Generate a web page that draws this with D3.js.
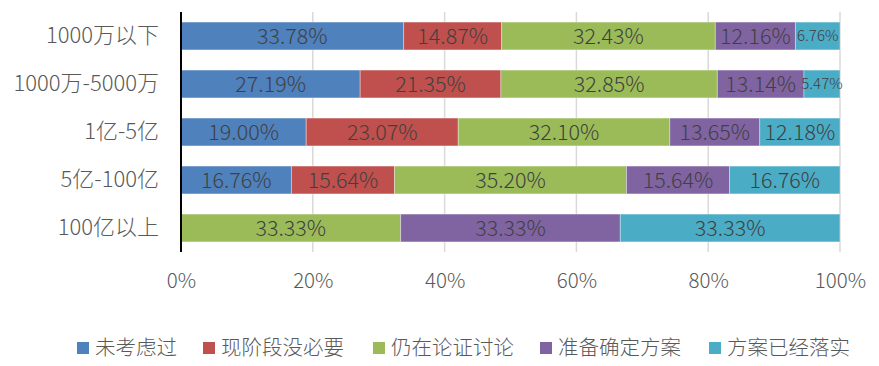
<!DOCTYPE html>
<html><head><meta charset="utf-8">
<script src="https://cdn.jsdelivr.net/npm/d3@7/dist/d3.min.js"></script>
<style>body{margin:0;background:#fff}svg{display:block}</style>
</head><body>
<script>
const categories = ["1000万以下","1000万-5000万","1亿-5亿","5亿-100亿","100亿以上"];
const seriesNames = ["未考虑过","现阶段没必要","仍在论证讨论","准备确定方案","方案已经落实"];
const colors = ["#4F81BD","#C0504D","#9BBB59","#8064A2","#4BACC6"];
const s1 = [33.78, 27.19, 19.00, 16.76, 0];
const s2 = [14.87, 21.35, 23.07, 15.64, 0];
const s3 = [32.43, 32.85, 32.10, 35.20, 33.33];
const s4 = [12.16, 13.14, 13.65, 15.64, 33.33];
const s5 = [6.76, 5.47, 12.18, 16.76, 33.33];
const xTicks = [0, 20, 40, 60, 80, 100];

const W = 879, H = 366;
const svg = d3.select("body").append("svg").attr("width", W).attr("height", H);
const font = "'Noto Sans CJK SC','Noto Sans',sans-serif";
const weight = 300;

const x = d3.scaleLinear().domain([0, 100]).range([181, 840]);
const y = d3.scaleBand().domain(categories).range([12, 252]).paddingInner(0.42).paddingOuter(0.21);

const rows = categories.map((c, i) => {
  const r = {cat: c};
  [s1, s2, s3, s4, s5].forEach((s, k) => r[seriesNames[k]] = s[i]);
  return r;
});
const stacked = d3.stack().keys(seriesNames)(rows);

// gridlines
svg.append("g").selectAll("line").data(xTicks.filter(t => t > 0)).join("line")
  .attr("x1", d => x(d)).attr("x2", d => x(d))
  .attr("y1", 12).attr("y2", 252)
  .attr("stroke", "#D9D9D9").attr("stroke-width", 1.5);

// bars
const g = svg.append("g");
stacked.forEach((layer, k) => {
  g.append("g").selectAll("rect").data(layer.filter(d => d[1] - d[0] > 0)).join("rect")
    .attr("x", d => x(d[0])).attr("width", d => x(d[1]) - x(d[0]))
    .attr("y", d => y(d.data.cat)).attr("height", y.bandwidth())
    .attr("fill", colors[k])
    .attr("stroke", "rgba(255,255,255,0.35)").attr("stroke-width", 1);
});
// labels
stacked.forEach((layer, k) => {
  g.append("g").selectAll("text").data(layer.filter(d => d[1] - d[0] > 0)).join("text")
    .attr("x", d => (x(d[0]) + x(d[1])) / 2)
    .attr("y", d => y(d.data.cat) + y.bandwidth() / 2)
    .attr("dy", "0.36em")
    .attr("text-anchor", "middle")
    .attr("font-family", font).attr("font-weight", weight)
    .attr("font-size", d => (d[1] - d[0]) < 10 ? 15 : 21.5)
    .attr("fill", "#404040")
    .text(d => (d[1] - d[0]).toFixed(2) + "%");
});

// y axis
const yAxis = svg.append("g").attr("transform", "translate(181,0)")
  .call(d3.axisLeft(y).tickSize(0).tickPadding(22));
yAxis.select(".domain").attr("stroke", "#000").attr("stroke-width", 2).attr("d", "M0,12V252");
yAxis.selectAll("text").attr("font-family", font).attr("font-weight", weight).attr("font-size", 22).attr("fill", "#595959");

// x axis
const xAxis = svg.append("g").attr("transform", "translate(0,252)")
  .call(d3.axisBottom(x).tickValues(xTicks).tickFormat(d => d + "%").tickSize(0).tickPadding(21));
xAxis.select(".domain").remove();
xAxis.selectAll("text").attr("font-family", font).attr("font-weight", weight).attr("font-size", 20.5).attr("fill", "#595959");

// legend
const legX = [77, 203, 373, 540, 709];
const leg = svg.append("g").selectAll("g").data(seriesNames).join("g")
  .attr("transform", (d, i) => `translate(${legX[i]},348)`);
leg.append("rect").attr("x", 0).attr("y", -6).attr("width", 12).attr("height", 12)
  .attr("fill", (d, i) => colors[i]);
leg.append("text").attr("x", 18).attr("dy", "0.36em")
  .attr("font-family", font).attr("font-weight", weight).attr("font-size", 20.5).attr("fill", "#595959")
  .text(d => d);
</script>
</body></html>
